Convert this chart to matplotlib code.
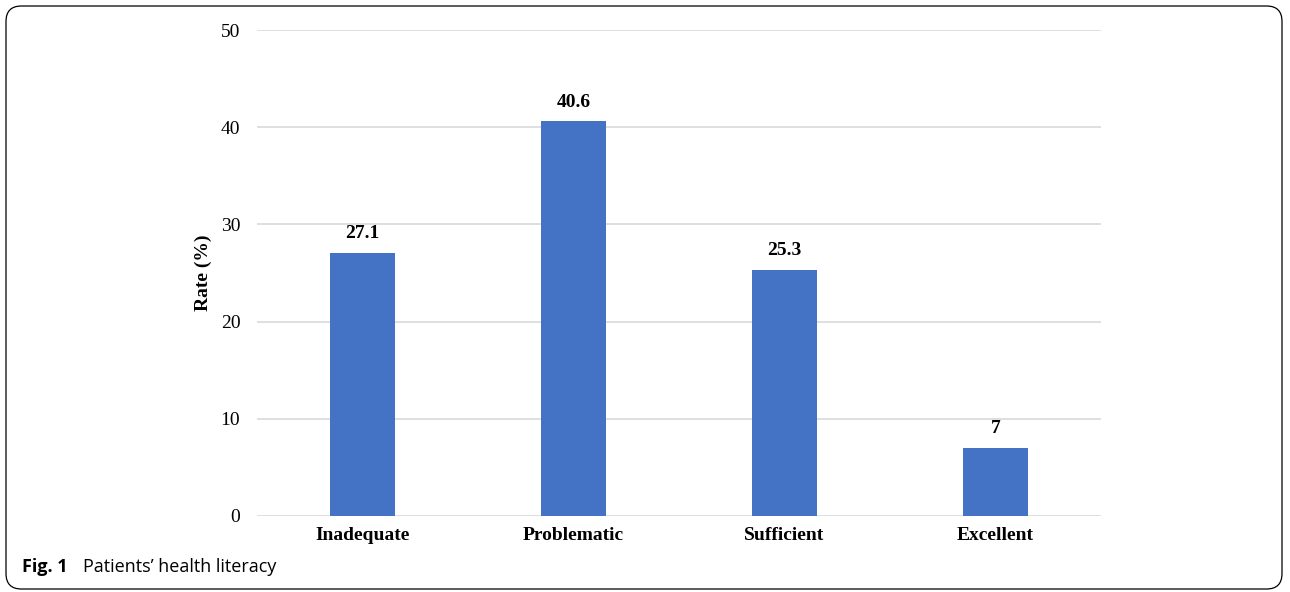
import numpy as np
import matplotlib.pyplot as plt
from matplotlib.patches import FancyBboxPatch

categorias = ['Inadequate', 'Problematic', 'Sufficient', 'Excellent']
valores = [27.1, 40.6, 25.3, 7]
etiquetas = ['27.1', '40.6', '25.3', '7']
yticks = [0, 10, 20, 30, 40, 50]

fig = plt.figure(figsize=(12.9, 5.92), dpi=100)
ax = fig.add_axes([0.1992, 0.1284, 0.6543, 0.8209])

x = np.arange(len(categorias))
ax.bar(x, valores, width=0.31, color='#4472C4', zorder=3)

for xi, v, t in zip(x, valores, etiquetas):
    ax.text(xi, v + 1.1, t, ha='center', va='bottom', fontsize=14,
            fontweight='bold', family='Liberation Serif')

ax.set_xlim(-0.5, 3.5)
ax.set_ylim(0, 50)
ax.set_yticks(yticks)
ax.set_xticks(x)
ax.set_xticklabels(categorias, fontsize=14, fontweight='bold', family='Liberation Serif')
for lab in ax.get_yticklabels():
    lab.set_family('Liberation Serif')
    lab.set_fontsize(14)
ax.tick_params(axis='both', length=0)
ax.tick_params(axis='y', pad=12)
ax.tick_params(axis='x', pad=8)
ax.grid(axis='y', color='#d9d9d9', linewidth=1.2, zorder=0)
for s in ax.spines.values():
    s.set_visible(False)
ax.set_ylabel('Rate (%)', fontsize=14, fontweight='bold', family='Liberation Serif', labelpad=6)

# marco redondeado
marco = FancyBboxPatch((6 / 1290, 3 / 592), 1282 / 1290 - 6 / 1290, 586 / 592 - 3 / 592,
                       boxstyle='round,pad=0,rounding_size=0.012',
                       transform=fig.transFigure, fill=False, edgecolor='black',
                       linewidth=0.9, mutation_aspect=1290 / 592)
fig.patches.append(marco)

fig.text(22 / 1290, 1 - 567 / 592, 'Fig. 1', fontsize=13, fontweight='bold',
         family='Open Sans', va='center')
fig.text(83 / 1290, 1 - 567 / 592, "Patients\u2019 health literacy", fontsize=13,
         family='Open Sans', va='center')

fig.savefig('out.png', dpi=100)
